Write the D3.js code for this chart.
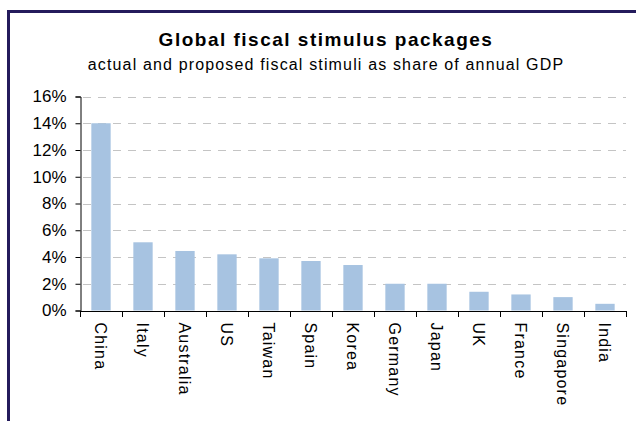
<!DOCTYPE html>
<html>
<head>
<meta charset="utf-8">
<script src="https://cdnjs.cloudflare.com/ajax/libs/d3/7.8.5/d3.min.js"></script>
<style>
  html, body { margin: 0; padding: 0; overflow: hidden; background: #fff; }
  svg { display: block; }
  text { font-family: "Liberation Sans", Arial, sans-serif; }
</style>
</head>
<body>
<div id="chart"></div>
<script>
// data
var countries = ["China", "Italy", "Australia", "US", "Taiwan", "Spain", "Korea",
                 "Germany", "Japan", "UK", "France", "Singapore", "India"];
var stimulus = [14.0, 5.1, 4.45, 4.2, 3.9, 3.7, 3.4, 2.0, 2.0, 1.4, 1.2, 1.0, 0.5];
var yTicks = [0, 2, 4, 6, 8, 10, 12, 14, 16];

var width = 636, height = 421;
var margin = {top: 96.5, right: 10, bottom: 110.5, left: 80};
var plotRight = 626;

var svg = d3.select("#chart")
  .append("svg")
  .attr("width", width)
  .attr("height", height);

// outer frame: only the top and left edges are in view
svg.append("path")
  .attr("d", "M8.5," + height + "V11.5H" + width)
  .attr("fill", "none")
  .attr("stroke", "#241b5c")
  .attr("stroke-width", 3);

var x = d3.scaleBand()
  .domain(countries)
  .range([margin.left, plotRight])
  .paddingInner(0.54)
  .paddingOuter(0.27);

var y = d3.scaleLinear()
  .domain([0, 16])
  .range([height - margin.bottom, margin.top]);

// gridlines
svg.append("g")
  .selectAll("line")
  .data(yTicks.filter(function(d) { return d > 0; }))
  .enter()
  .append("line")
    .attr("x1", margin.left + 3)
    .attr("x2", plotRight)
    .attr("y1", function(d) { return Math.round(y(d)) + 0.5; })
    .attr("y2", function(d) { return Math.round(y(d)) + 0.5; })
    .attr("stroke", "#c4c4c4")
    .attr("stroke-width", 1)
    .attr("stroke-dasharray", "8,7");

// bars
svg.append("g")
  .selectAll("rect")
  .data(stimulus)
  .enter()
  .append("rect")
    .attr("x", function(d, i) { return x(countries[i]); })
    .attr("y", function(d) { return y(d); })
    .attr("width", x.bandwidth())
    .attr("height", function(d) { return y(0) - y(d); })
    .attr("fill", "#a7c3e1");

// y axis
var yAxis = svg.append("g")
  .attr("transform", "translate(" + (margin.left + 0.5) + ",0)")
  .call(d3.axisLeft(y)
    .tickValues(yTicks)
    .tickSize(5)
    .tickPadding(9)
    .tickFormat(function(d) { return d + "%"; }));

yAxis.selectAll("text")
  .style("font-size", "17px")
  .attr("fill", "#000");
yAxis.select(".domain").attr("stroke", "#000");
yAxis.selectAll(".tick line").attr("stroke", "#000");

// x axis: tick marks between categories
var xEdge = d3.scaleLinear()
  .domain([0, countries.length])
  .range([margin.left, plotRight]);

var xAxisG = svg.append("g");
xAxisG.append("line")
  .attr("x1", margin.left)
  .attr("x2", plotRight)
  .attr("y1", Math.round(y(0)) + 0.5)
  .attr("y2", Math.round(y(0)) + 0.5)
  .attr("stroke", "#000");
xAxisG.selectAll("line.tick")
  .data(d3.range(countries.length + 1))
  .enter()
  .append("line")
    .attr("class", "tick")
    .attr("x1", function(d) { return Math.round(xEdge(d)) + 0.5; })
    .attr("x2", function(d) { return Math.round(xEdge(d)) + 0.5; })
    .attr("y1", Math.round(y(0)))
    .attr("y2", Math.round(y(0)) + 6)
    .attr("stroke", "#000");

// rotated category labels
svg.append("g")
  .selectAll("text")
  .data(countries)
  .enter()
  .append("text")
    .attr("transform", function(d) {
      return "translate(" + (x(d) + x.bandwidth() / 2) + "," + (y(0) + 12) + ") rotate(90)";
    })
    .attr("dy", "0.35em")
    .style("font-size", "16px")
    .style("letter-spacing", "1.2px")
    .attr("text-anchor", "start")
    .text(function(d) { return d; });

// titles
svg.append("text")
  .attr("x", 326)
  .attr("y", 46)
  .attr("text-anchor", "middle")
  .style("font-size", "19px")
  .style("font-weight", "bold")
  .style("letter-spacing", "1.5px")
  .text("Global fiscal stimulus packages");

svg.append("text")
  .attr("x", 326)
  .attr("y", 70)
  .attr("text-anchor", "middle")
  .style("font-size", "16px")
  .style("letter-spacing", "1.15px")
  .text("actual and proposed fiscal stimuli as share of annual GDP");
</script>
</body>
</html>
